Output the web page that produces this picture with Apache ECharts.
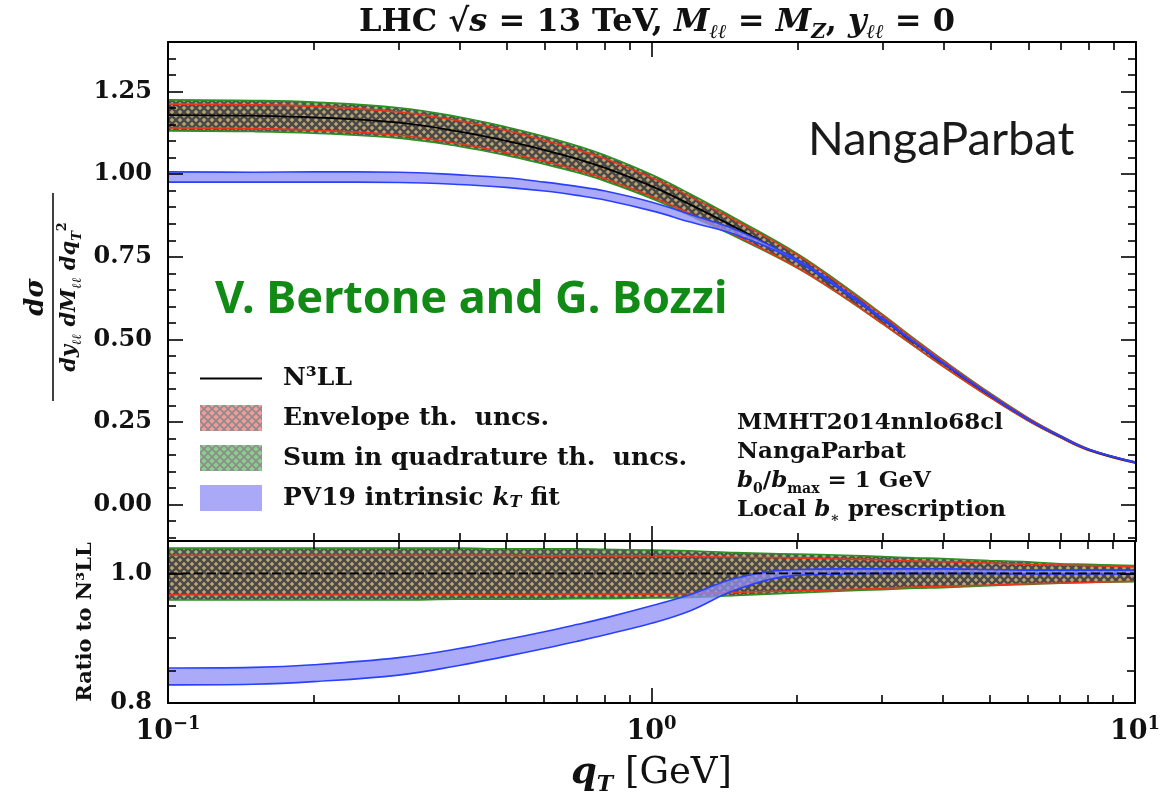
<!DOCTYPE html>
<html>
<head>
<meta charset="utf-8">
<script src="https://cdn.jsdelivr.net/npm/echarts@6/dist/echarts.min.js"></script>
<style>html,body{margin:0;padding:0;background:#fff}#c{width:1163px;height:800px}</style>
</head>
<body>
<div id="c"></div>
<script>
// ---------------- data ----------------
const qT = [0.1,0.15,0.2,0.3,0.4,0.5,0.6,0.7,0.8,1.0,1.2,1.5,2.0,2.5,3.0,3.5,4.0,5.0,6.0,7.0,8.0,10.0];

// top panel: dsigma / (dy dM dqT^2)
const n3llTop   = [1.179,1.177,1.172,1.156,1.129,1.101,1.073,1.046,1.019,0.963,0.908,0.836,0.737,0.643,0.560,0.488,0.427,0.330,0.257,0.205,0.166,0.127];
const envLoTop  = [1.140,1.138,1.133,1.118,1.092,1.065,1.039,1.013,0.986,0.932,0.880,0.812,0.717,0.627,0.547,0.478,0.418,0.324,0.253,0.202,0.164,0.125];
const envHiTop  = [1.212,1.210,1.205,1.188,1.161,1.132,1.102,1.074,1.047,0.989,0.932,0.857,0.755,0.657,0.572,0.497,0.435,0.335,0.261,0.208,0.168,0.128];
const quadLoTop = [1.131,1.129,1.124,1.109,1.084,1.057,1.030,1.005,0.979,0.926,0.874,0.808,0.715,0.626,0.546,0.477,0.418,0.324,0.253,0.202,0.164,0.125];
const quadHiTop = [1.225,1.223,1.218,1.201,1.173,1.143,1.114,1.086,1.057,0.998,0.940,0.863,0.759,0.661,0.575,0.500,0.437,0.337,0.262,0.208,0.168,0.129];
const pv19LoTop = [0.976,0.976,0.976,0.975,0.969,0.960,0.949,0.936,0.922,0.889,0.855,0.815,0.735,0.642,0.559,0.488,0.427,0.330,0.256,0.205,0.166,0.127];
const pv19HiTop = [1.007,1.006,1.007,1.006,0.998,0.989,0.976,0.963,0.949,0.915,0.878,0.830,0.741,0.648,0.564,0.491,0.430,0.332,0.258,0.206,0.167,0.128];

// bottom panel: ratio to N3LL
const n3llRatio   = [1,1,1,1,1,1,1,1,1,1,1,1,1,1,1,1,1,1,1,1,1,1];
const envLoRatio  = [0.967,0.967,0.967,0.967,0.967,0.967,0.968,0.968,0.968,0.968,0.969,0.971,0.973,0.975,0.977,0.979,0.980,0.982,0.984,0.985,0.986,0.988];
const envHiRatio  = [1.028,1.028,1.028,1.028,1.028,1.028,1.027,1.027,1.027,1.027,1.026,1.025,1.024,1.022,1.021,1.019,1.018,1.016,1.014,1.013,1.012,1.010];
const quadLoRatio = [0.959,0.959,0.959,0.959,0.960,0.960,0.960,0.961,0.961,0.962,0.963,0.966,0.970,0.973,0.975,0.977,0.978,0.981,0.983,0.985,0.986,0.987];
const quadHiRatio = [1.039,1.039,1.039,1.039,1.039,1.038,1.038,1.038,1.037,1.036,1.035,1.032,1.030,1.028,1.026,1.024,1.023,1.020,1.018,1.015,1.014,1.012];
const pv19LoRatio = [0.828,0.829,0.833,0.843,0.858,0.872,0.884,0.895,0.905,0.923,0.942,0.975,0.997,0.999,1.000,1.000,1.000,1.000,0.999,0.999,0.999,0.999];
const pv19HiRatio = [0.854,0.855,0.859,0.870,0.884,0.898,0.910,0.921,0.931,0.950,0.967,0.993,1.006,1.007,1.007,1.007,1.007,1.006,1.005,1.005,1.005,1.005];

// axis ticks
const xMajorTicks = [0.1, 1, 10];
const xMinorTicks = [0.2,0.3,0.4,0.5,0.6,0.7,0.8,0.9,2,3,4,5,6,7,8,9];
const yTopMajor = [0, 0.25, 0.5, 0.75, 1.0, 1.25];
const yTopMinor = [-0.1,-0.05,0.05,0.1,0.15,0.2,0.3,0.35,0.4,0.45,0.55,0.6,0.65,0.7,0.8,0.85,0.9,0.95,1.05,1.1,1.15,1.2,1.3,1.35];
const yRatioMajor = [0.8, 1.0];
const yRatioMinor = [0.85, 0.9, 0.95];

const NAMES = {
  n3ll: 'N³LL',
  env: 'Envelope th.  uncs.',
  quad: 'Sum in quadrature th.  uncs.',
  pv19: 'PV19 intrinsic kT fit'
};

// ---------------- helpers ----------------
const SERIF = '"DejaVu Serif", "Liberation Serif", serif';
const L = v => Math.log10(v);
const pts = arr => qT.map((q, i) => [L(q), arr[i]]);
// band rows are [value, log10(qT)] so that the stack runs along the y dimension
const bandRows = arr => qT.map((q, i) => [arr[i], L(q)]);
const spanRows = (lo, hi) => qT.map((q, i) => [+(hi[i] - lo[i]).toFixed(4), L(q)]);

function pattern(fill, line, lw) {
  const c = document.createElement('canvas');
  c.width = 8; c.height = 8;
  const g = c.getContext('2d');
  g.fillStyle = fill; g.fillRect(0, 0, 8, 8);
  g.strokeStyle = line; g.lineWidth = lw;
  g.beginPath();
  g.moveTo(-2, -2); g.lineTo(10, 10);
  g.moveTo(10, -2); g.lineTo(-2, 10);
  g.stroke();
  return { image: c, repeat: 'repeat' };
}
const greenPat = pattern('#86b86a', '#404040', 2.4);
const redPat = pattern('#e58a6c', '#404040', 2.4);
const greenPatLeg = pattern('#8ccc8c', '#8c8c8c', 1.6);
const redPatLeg = pattern('#f39a9a', '#8c8c8c', 1.6);

function band(name, lo, hi, xi, yi, stack, fill, edge, z, op) {
  const common = { type: 'line', xAxisIndex: xi, yAxisIndex: yi, stack: stack,
    dimensions: ['v', 'lq'], encode: { x: 'lq', y: 'v' },
    smooth: 0.4, symbol: 'none', silent: true, z: z };
  return [
    Object.assign({ name: '_' + stack, data: bandRows(lo),
      lineStyle: { color: edge, width: 1.6 } }, common),
    Object.assign({ name: name, data: spanRows(lo, hi),
      lineStyle: { color: edge, width: 1.6 },
      areaStyle: { color: fill, opacity: op } }, common)
  ];
}

function xAx(grid, pos, ticks, len, label, name) {
  const a = {
    type: 'value', gridIndex: grid, position: pos, min: -1, max: 1, z: 10,
    axisLine: { show: len > 10, onZero: false, lineStyle: { color: '#000', width: 2 } },
    splitLine: { show: false },
    axisTick: { show: true, inside: true, length: len, customValues: ticks.map(L),
                lineStyle: { color: '#000', width: 1.6 } },
    axisLabel: { show: false }
  };
  if (label) {
    a.axisLabel = {
      show: true, customValues: ticks.map(L), margin: 12,
      formatter: v => { const e = Math.round(v); return '{b|10}{p|' + (e < 0 ? '−' + (-e) : e) + '}'; },
      rich: {
        b: { fontFamily: SERIF, fontSize: 27, fontWeight: 'bold', color: '#111', lineHeight: 34 },
        p: { fontFamily: SERIF, fontSize: 18, fontWeight: 'bold', color: '#111', lineHeight: 18, verticalAlign: 'top' }
      }
    };
  }
  if (name) {
    a.name = '{i|q}{s|T}{b| [GeV]}';
    a.nameLocation = 'middle';
    a.nameGap = 47;
    a.nameTextStyle = { rich: {
      i: { fontFamily: SERIF, fontSize: 37, fontWeight: 'bold', fontStyle: 'italic', color: '#111', lineHeight: 46 },
      s: { fontFamily: SERIF, fontSize: 22, fontWeight: 'bold', fontStyle: 'italic', color: '#111', lineHeight: 18, verticalAlign: 'bottom' },
      b: { fontFamily: SERIF, fontSize: 37, color: '#111', lineHeight: 46 }
    } };
  }
  return a;
}

function yAx(grid, pos, min, max, ticks, len, labelFmt, extra) {
  const a = {
    type: 'value', gridIndex: grid, position: pos, min: min, max: max, z: 10,
    axisLine: { show: len > 10, onZero: false, lineStyle: { color: '#000', width: 2 } },
    splitLine: { show: false },
    axisTick: { show: true, inside: true, length: len, customValues: ticks,
                lineStyle: { color: '#000', width: 1.6 } },
    axisLabel: { show: false }
  };
  if (labelFmt) {
    a.axisLabel = { show: true, customValues: ticks, margin: 16, formatter: labelFmt,
      fontFamily: SERIF, fontSize: 24, fontWeight: 'bold', color: '#111' };
  }
  return Object.assign(a, extra || {});
}

// ---------------- chart ----------------
const chart = echarts.init(document.getElementById('c'), null, { renderer: 'canvas' });

const series = [].concat(
  band(NAMES.quad, quadLoTop, quadHiTop, 0, 0, 'quadTop', greenPat, '#2f8f22', 2, 0.9),
  band(NAMES.env, envLoTop, envHiTop, 0, 0, 'envTop', redPat, '#e8361e', 3, 0.5),
  [{ name: NAMES.n3ll, type: 'line', xAxisIndex: 0, yAxisIndex: 0, data: pts(n3llTop), smooth: 0.4,
     symbol: 'none', silent: true, z: 4, lineStyle: { color: '#000', width: 1.8 } }],
  band(NAMES.pv19, pv19LoTop, pv19HiTop, 0, 0, 'pvTop', '#8e8ef6', '#2a40ff', 5, 0.75),

  band(NAMES.quad, quadLoRatio, quadHiRatio, 4, 4, 'quadR', greenPat, '#2f8f22', 2, 0.9),
  band(NAMES.env, envLoRatio, envHiRatio, 4, 4, 'envR', redPat, '#e8361e', 3, 0.5),
  band(NAMES.pv19, pv19LoRatio, pv19HiRatio, 4, 4, 'pvR', '#8e8ef6', '#2a40ff', 5, 0.75),
  [{ name: NAMES.n3ll, type: 'line', xAxisIndex: 4, yAxisIndex: 4, data: pts(n3llRatio),
     symbol: 'none', silent: true, z: 6, lineStyle: { color: '#000', width: 1.8, type: [9, 4] } }]
);

const option = {
  animation: false,
  backgroundColor: '#fff',
  title: {
    text: '{r|LHC √}{i|s}{r| = 13 TeV, }{i|M}{s|ℓℓ}{r| = }{i|M}{s|Z}{r|, }{i|y}{s|ℓℓ}{r| = 0}',
    left: 652, top: -2, textAlign: 'center',
    textStyle: { rich: {
      r: { fontFamily: SERIF, fontSize: 32, fontWeight: 'bold', color: '#111', lineHeight: 40 },
      i: { fontFamily: SERIF, fontSize: 32, fontWeight: 'bold', fontStyle: 'italic', color: '#111', lineHeight: 40 },
      s: { fontFamily: SERIF, fontSize: 20, fontWeight: 'bold', fontStyle: 'italic', color: '#111', lineHeight: 18, verticalAlign: 'bottom' }
    } }
  },
  grid: [
    { left: 168, top: 42, width: 968, height: 499, show: false },
    { left: 168, top: 541, width: 968, height: 162, show: false }
  ],
  xAxis: [
    xAx(0, 'bottom', xMajorTicks, 15),
    xAx(0, 'bottom', xMinorTicks, 8),
    xAx(0, 'top', xMajorTicks, 15),
    xAx(0, 'top', xMinorTicks, 8),
    xAx(1, 'bottom', xMajorTicks, 15, true, true),
    xAx(1, 'bottom', xMinorTicks, 8),
    xAx(1, 'top', xMajorTicks, 15),
    xAx(1, 'top', xMinorTicks, 8)
  ],
  yAxis: [
    yAx(0, 'left', -0.11, 1.4, yTopMajor, 15, v => v.toFixed(2)),
    yAx(0, 'left', -0.11, 1.4, yTopMinor, 8),
    yAx(0, 'right', -0.11, 1.4, yTopMajor, 15),
    yAx(0, 'right', -0.11, 1.4, yTopMinor, 8),
    yAx(1, 'left', 0.8, 1.05, yRatioMajor, 15, v => v.toFixed(1), {
      name: 'Ratio to N³LL', nameLocation: 'middle', nameRotate: 90, nameGap: 72,
      nameTextStyle: { fontFamily: SERIF, fontSize: 21, fontWeight: 'bold', color: '#111' }
    }),
    yAx(1, 'left', 0.8, 1.05, yRatioMinor, 8),
    yAx(1, 'right', 0.8, 1.05, yRatioMajor, 15),
    yAx(1, 'right', 0.8, 1.05, yRatioMinor, 8)
  ],
  legend: {
    orient: 'vertical', left: 195, top: 361, itemWidth: 62, itemHeight: 26, itemGap: 14,
    selectedMode: false,
    data: [
      { name: NAMES.n3ll, icon: 'path://M0,0H60V2H0Z', itemStyle: { color: '#000', borderWidth: 0 } },
      { name: NAMES.env, icon: 'rect', itemStyle: { color: redPatLeg, borderWidth: 0, opacity: 1 } },
      { name: NAMES.quad, icon: 'rect', itemStyle: { color: greenPatLeg, borderWidth: 0, opacity: 1 } },
      { name: NAMES.pv19, icon: 'rect', itemStyle: { color: '#a9a9f8', borderWidth: 0, opacity: 1 } }
    ],
    formatter: n => n === NAMES.pv19 ? '{b|PV19 intrinsic }{i|k}{s|T}{b| fit}' : '{b|' + n + '}',
    textStyle: {
      padding: [0, 0, 0, 16],
      rich: {
        b: { fontFamily: SERIF, fontSize: 25, fontWeight: 'bold', color: '#111', lineHeight: 26 },
        i: { fontFamily: SERIF, fontSize: 25, fontWeight: 'bold', fontStyle: 'italic', color: '#111', lineHeight: 26 },
        s: { fontFamily: SERIF, fontSize: 16, fontWeight: 'bold', fontStyle: 'italic', color: '#111', lineHeight: 12, verticalAlign: 'bottom' }
      }
    }
  },
  graphic: [
    { type: 'group', x: 53, y: 297, rotation: Math.PI / 2, children: [
      { type: 'text', x: 0, y: -4, style: { text: 'dσ', fontFamily: SERIF, fontSize: 26, fontWeight: 'bold', fontStyle: 'italic', fill: '#111',
          align: 'center', verticalAlign: 'bottom', textAlign: 'center', textVerticalAlign: 'bottom' } },
      { type: 'line', shape: { x1: -104, y1: 0, x2: 104, y2: 0 }, style: { stroke: '#111', lineWidth: 1.6 } },
      { type: 'text', x: 0, y: 3, style: {
          text: '{i|dy}{s|ℓℓ}{i| dM}{s|ℓℓ}{i| dq}{s|T}{p|2}',
          align: 'center', verticalAlign: 'top', textAlign: 'center', textVerticalAlign: 'top',
          rich: {
            i: { fontFamily: SERIF, fontSize: 21, fontWeight: 'bold', fontStyle: 'italic', fill: '#111', lineHeight: 28 },
            s: { fontFamily: SERIF, fontSize: 13, fontWeight: 'bold', fontStyle: 'italic', fill: '#111', lineHeight: 10, verticalAlign: 'bottom' },
            p: { fontFamily: SERIF, fontSize: 13, fontWeight: 'bold', fill: '#111', lineHeight: 10, verticalAlign: 'top' }
          } } }
    ] },
    { type: 'text', x: 808, y: 140, z: 20, style: { text: 'NangaParbat', fontFamily: 'Lato, "Open Sans", sans-serif', fontSize: 47,
        fill: '#1a1a1a', verticalAlign: 'middle', textVerticalAlign: 'middle' } },
    { type: 'text', x: 215, y: 300, z: 20, style: { text: 'V. Bertone and G. Bozzi', fontFamily: '"Noto Sans", "Open Sans", sans-serif',
        fontSize: 45, fontWeight: 'bold', fill: '#128a16', verticalAlign: 'middle', textVerticalAlign: 'middle' } },
    { type: 'text', x: 737, y: 409, z: 20, style: {
        text: 'MMHT2014nnlo68cl\nNangaParbat\n{i|b}{s|0}/{i|b}{s|max} = 1 GeV\nLocal {i|b}{s|∗} prescription',
        fontFamily: SERIF, fontSize: 23, fontWeight: 'bold', fill: '#111', lineHeight: 29,
        verticalAlign: 'top', textVerticalAlign: 'top',
        rich: {
          i: { fontFamily: SERIF, fontSize: 23, fontWeight: 'bold', fontStyle: 'italic', fill: '#111', lineHeight: 29 },
          s: { fontFamily: SERIF, fontSize: 14, fontWeight: 'bold', fill: '#111', lineHeight: 12, verticalAlign: 'bottom' }
        } } }
  ],
  series: series
};
chart.setOption(option);
</script>
</body>
</html>
